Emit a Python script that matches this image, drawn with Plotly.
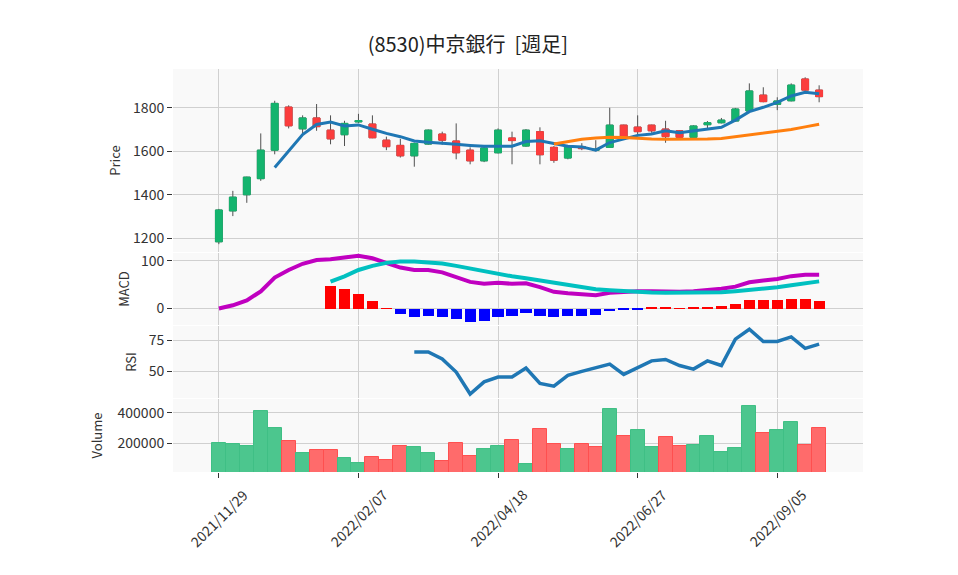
import plotly.graph_objects as go

# ---------------- data ----------------
dates = ["2021-11-29", "2021-12-06", "2021-12-13", "2021-12-20", "2021-12-27",
         "2022-01-03", "2022-01-10", "2022-01-17", "2022-01-24", "2022-01-31",
         "2022-02-07", "2022-02-14", "2022-02-21", "2022-02-28", "2022-03-07",
         "2022-03-14", "2022-03-21", "2022-03-28", "2022-04-04", "2022-04-11",
         "2022-04-18", "2022-04-25", "2022-05-02", "2022-05-09", "2022-05-16",
         "2022-05-23", "2022-05-30", "2022-06-06", "2022-06-13", "2022-06-20",
         "2022-06-27", "2022-07-04", "2022-07-11", "2022-07-18", "2022-07-25",
         "2022-08-01", "2022-08-08", "2022-08-15", "2022-08-22", "2022-08-29",
         "2022-09-05", "2022-09-12", "2022-09-19", "2022-09-26"]

open_ = [1184, 1326, 1400, 1474, 1605, 1803, 1703, 1753, 1697, 1676,
         1735, 1725, 1651, 1627, 1579, 1633, 1679, 1647, 1605, 1556,
         1593, 1661, 1624, 1690, 1618, 1569, 1622, 1605, 1618, 1720,
         1711, 1720, 1702, 1694, 1664, 1722, 1731, 1739, 1785, 1858,
         1816, 1832, 1932, 1881]
high = [1335, 1418, 1483, 1682, 1832, 1811, 1765, 1817, 1765, 1740,
        1772, 1765, 1667, 1657, 1640, 1700, 1690, 1728, 1618, 1620,
        1705, 1690, 1702, 1710, 1624, 1624, 1637, 1651, 1800, 1722,
        1765, 1722, 1740, 1697, 1719, 1739, 1753, 1799, 1912, 1894,
        1848, 1912, 1940, 1903]
low = [1173, 1302, 1363, 1464, 1586, 1705, 1682, 1694, 1632, 1624,
       1730, 1660, 1605, 1571, 1529, 1630, 1630, 1563, 1540, 1550,
       1590, 1540, 1621, 1540, 1547, 1563, 1605, 1600, 1615, 1660,
       1668, 1685, 1639, 1661, 1661, 1702, 1728, 1736, 1782, 1825,
       1789, 1829, 1878, 1825]
close = [1330, 1389, 1481, 1605, 1820, 1717, 1753, 1713, 1657, 1728,
         1741, 1662, 1621, 1579, 1636, 1697, 1651, 1593, 1556, 1615,
         1697, 1649, 1697, 1584, 1559, 1621, 1612, 1609, 1720, 1664,
         1690, 1694, 1667, 1664, 1716, 1731, 1743, 1794, 1877, 1828,
         1831, 1904, 1881, 1851]

ma5 = [None, None, None, None, 1525, 1600, 1677, 1723, 1734, 1716,
       1721, 1701, 1682, 1667, 1647, 1641, 1638, 1632, 1627, 1623,
       1623, 1623, 1645, 1648, 1636, 1623, 1620, 1605, 1640, 1657,
       1673, 1679, 1694, 1685, 1693, 1700, 1710, 1743, 1782, 1802,
       1825, 1854, 1871, 1864]
ma25 = [None] * 24 + [1633, 1645, 1655, 1661, 1664, 1663, 1659, 1656, 1655, 1655,
                      1655, 1656, 1659, 1667, 1676, 1683, 1690, 1700, 1712, 1724]

macd = [0, 6.8, 17, 36, 65, 81, 94, 102, 103.5, 107.6,
        111, 105.6, 96.5, 86, 81, 81, 76, 67, 56, 52,
        54, 52, 53, 44.8, 35, 32, 29.6, 28, 33, 35,
        36.4, 36.4, 35, 35, 36.4, 38.5, 41.4, 46, 55, 59,
        62, 68, 71, 71]
signal = [None] * 8 + [56.5, 67.6, 81, 89.6, 95.9, 98.6, 98.6, 96.5, 94.4, 89.6,
                       84, 77.9, 73.5, 67.6, 63.4, 58.6, 53, 48.2, 44, 40.6,
                       38.5, 36.4, 35, 33.7, 33, 33, 33, 33.7, 34, 36.4,
                       38.5, 41.4, 44.8, 48.9, 53, 57]
hist = [None] * 8 + [47, 40, 31, 16, 0.6, -11, -17, -15, -17, -21.5,
                     -27.7, -25.7, -17, -15, -9, -15, -17, -15, -15, -13,
                     -5, -3.5, -1.5, 2.7, 2.7, 0.3, 2.7, 2.7, 4.8, 8.9,
                     17, 17, 17, 21, 19, 15]

rsi = [None] * 14 + [65.5, 65.5, 60, 49.5, 31.9, 41.6, 45.5, 45.5, 52.6, 40.3,
                     38.2, 46.8, 50, 52.9, 55.8, 47.6, 52.9, 58.4, 59.5, 54.7,
                     51.8, 58.4, 54.7, 75.8, 83.7, 73.9, 73.9, 77.6, 68.4, 71.8]

volume = [206000, 200000, 183000, 413000, 304000, 215000, 138000, 157000, 157000, 106000,
          74000, 112000, 93000, 183000, 176000, 138000, 87000, 202000, 119000, 164000,
          183000, 221000, 68000, 296000, 194000, 164000, 194000, 176000, 426000, 247000,
          285000, 176000, 240000, 183000, 189000, 247000, 144000, 170000, 445000, 266000,
          285000, 342000, 189000, 304000]

tick_dates = ["2021-11-29", "2022-02-07", "2022-04-18", "2022-06-27", "2022-09-05"]
tick_labels = ["2021/11/29", "2022/02/07", "2022/04/18", "2022/06/27", "2022/09/05"]

title_text = "(8530)中京銀行  [週足]"

# ---------------- styles ----------------
FONT = "Noto Sans CJK JP"
GREEN = "#14b46e"
RED = "#fb3d3d"
VGREEN = "#4cc68e"
VRED = "#ff6b6b"
GRID = "#d0d0d0"
BG = "#f9f9f9"
WEEK_MS = 7 * 24 * 3600 * 1000

body_hi = [max(o, c) for o, c in zip(open_, close)]
body_lo = [min(o, c) for o, c in zip(open_, close)]

vol_fill = []
vol_line = []
for i, c in enumerate(close):
    up = True if i == 0 else c >= close[i - 1]
    vol_fill.append(VGREEN if up else VRED)
    vol_line.append("#3fbf85" if up else "#ff4f4f")

hist_colors = ["rgba(0,0,0,0)" if h is None else ("#ff0000" if h >= 0 else "#0000ff") for h in hist]

fig = go.Figure()

# wicks (gray)
fig.add_trace(go.Candlestick(
    x=dates, open=open_, high=high, low=low, close=close,
    increasing=dict(line=dict(color="#505050", width=1), fillcolor="#505050"),
    decreasing=dict(line=dict(color="#505050", width=1), fillcolor="#505050"),
    xaxis="x", yaxis="y", showlegend=False, hoverinfo="skip"))
# coloured bodies
fig.add_trace(go.Candlestick(
    x=dates, open=open_, high=body_hi, low=body_lo, close=close,
    increasing=dict(line=dict(color=GREEN, width=1), fillcolor=GREEN),
    decreasing=dict(line=dict(color=RED, width=1), fillcolor=RED),
    xaxis="x", yaxis="y", showlegend=False))

fig.add_trace(go.Scatter(x=dates, y=ma5, mode="lines", line=dict(color="#1f77b4", width=3),
                         xaxis="x", yaxis="y", showlegend=False))
fig.add_trace(go.Scatter(x=dates, y=ma25, mode="lines", line=dict(color="#ff7f0e", width=3),
                         xaxis="x", yaxis="y", showlegend=False))

# MACD
fig.add_trace(go.Bar(x=dates, y=hist, marker=dict(color=hist_colors, line=dict(width=0)),
                     width=0.8 * WEEK_MS, xaxis="x2", yaxis="y2", showlegend=False))
fig.add_trace(go.Scatter(x=dates, y=macd, mode="lines", line=dict(color="#c000c0", width=4),
                         xaxis="x2", yaxis="y2", showlegend=False))
fig.add_trace(go.Scatter(x=dates, y=signal, mode="lines", line=dict(color="#00c0c0", width=4),
                         xaxis="x2", yaxis="y2", showlegend=False))

# RSI
fig.add_trace(go.Scatter(x=dates, y=rsi, mode="lines", line=dict(color="#1f77b4", width=3.5),
                         xaxis="x3", yaxis="y3", showlegend=False))

# Volume
fig.add_trace(go.Bar(x=dates, y=volume, width=WEEK_MS,
                     marker=dict(color=vol_fill, line=dict(color=vol_line, width=1)),
                     xaxis="x4", yaxis="y4", showlegend=False))

# rotated date labels, centred on their ticks
for d, lab in zip(tick_dates, tick_labels):
    fig.add_annotation(x=d, xref="x4", y=-0.114, yref="paper", text=lab, textangle=-45,
                       showarrow=False, xanchor="center", yanchor="middle",
                       font=dict(size=14, color="#333333", family=FONT))

x_range = ["2021-11-06", "2022-10-18"]
base_x = dict(type="date", range=x_range, tickvals=tick_dates,
              showgrid=True, gridcolor=GRID, gridwidth=1, zeroline=False, showline=False,
              rangeslider=dict(visible=False), fixedrange=True, showticklabels=False)

def ax(extra):
    d = dict(base_x)
    d.update(extra)
    return d

base_y = dict(showgrid=True, gridcolor=GRID, gridwidth=1, zeroline=False, showline=False,
              ticks="outside", ticklen=5, tickcolor="#333333", tickwidth=1,
              tickfont=dict(size=14, color="#333333"))

def ay(extra):
    d = dict(base_y)
    d.update(extra)
    return d

tfont = dict(size=13, color="#333333")

fig.update_layout(
    width=958, height=575,
    margin=dict(l=165, r=103, t=61, b=111),
    paper_bgcolor="white", plot_bgcolor=BG,
    font=dict(family=FONT, color="#333333"),
    title=dict(text=title_text, x=0.480, xanchor="center", y=0.9357, yanchor="middle",
               font=dict(size=20, color="#222222", family=FONT)),
    showlegend=False,
    bargap=0,
    xaxis=ax(dict(domain=[0, 1], anchor="y", ticks="")),
    xaxis2=ax(dict(domain=[0, 1], anchor="y2", ticks="")),
    xaxis3=ax(dict(domain=[0, 1], anchor="y3", ticks="")),
    xaxis4=ax(dict(domain=[0, 1], anchor="y4", ticks="outside",
                   ticklen=5, tickcolor="#333333")),
    yaxis=ay(dict(domain=[0.5459, 1.0], range=[1137, 1978], tickvals=[1200, 1400, 1600, 1800],
                  title=dict(text="Price", font=tfont, standoff=9))),
    yaxis2=ay(dict(domain=[0.3648, 0.5434], range=[-34.6, 116.6], tickvals=[0, 100],
                   title=dict(text="MACD", font=tfont, standoff=8))),
    yaxis3=ay(dict(domain=[0.1836, 0.3623], range=[28.7, 86.3], tickvals=[50, 75],
                   title=dict(text="RSI", font=tfont, standoff=9))),
    yaxis4=ay(dict(domain=[0, 0.1811], range=[14700, 489500], tickvals=[200000, 400000],
                   tickformat="d", title=dict(text="Volume", font=tfont, standoff=12))),
)

fig.write_html("out.html")
